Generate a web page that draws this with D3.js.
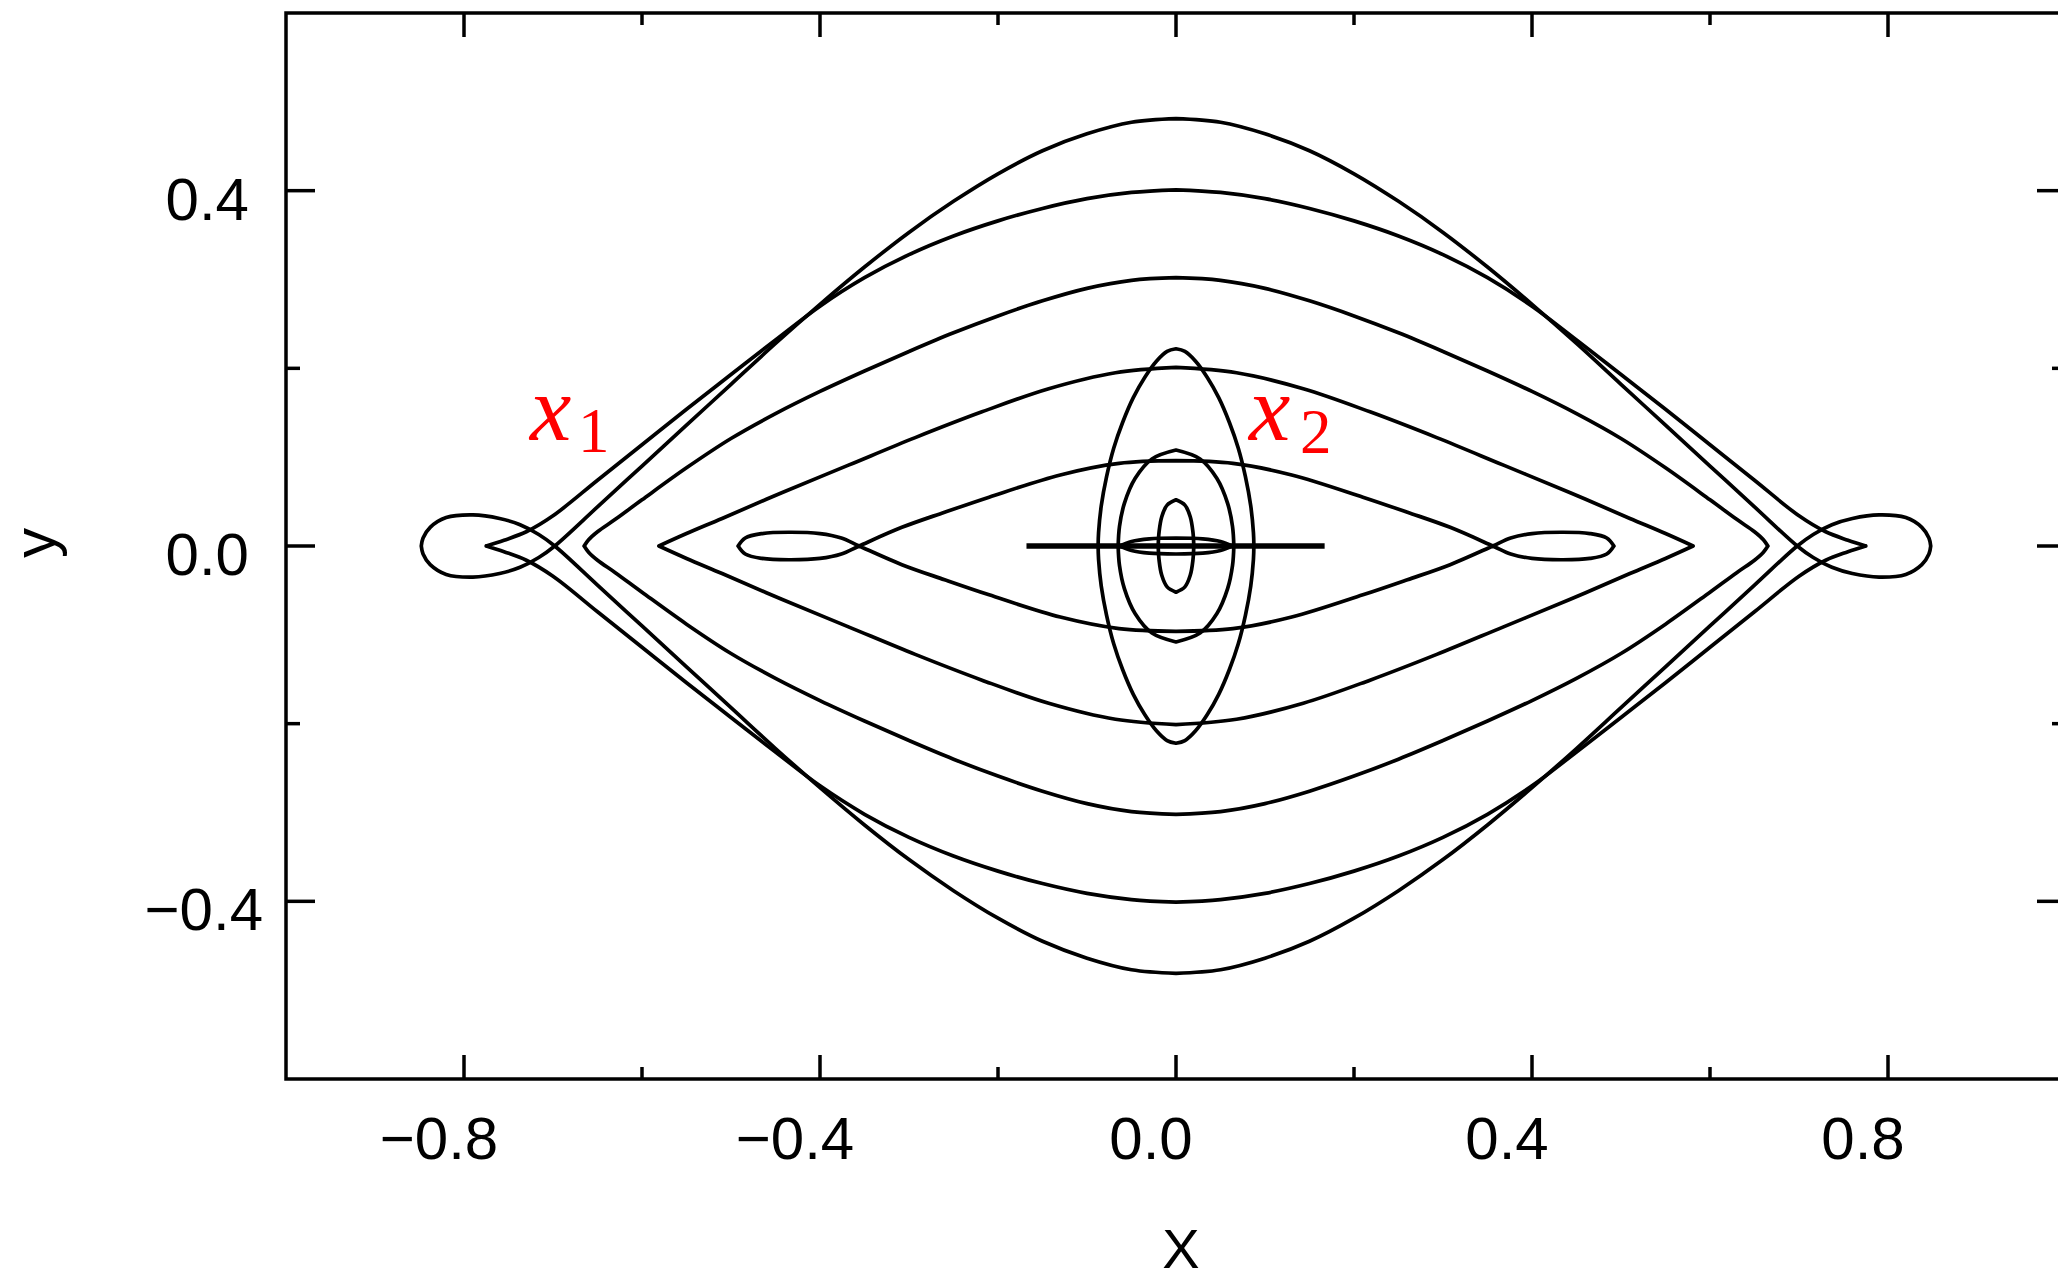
<!DOCTYPE html>
<html>
<head>
<meta charset="utf-8">
<script src="https://cdn.jsdelivr.net/npm/d3@7/dist/d3.min.js"></script>
<style>
  html, body { margin: 0; padding: 0; background: #ffffff; }
  svg { display: block; }
</style>
</head>
<body>
<script>
// ---------------- DATA ----------------
// Each orbit is given as its upper-right quarter: from the top point on the
// y-axis to the far end on the x-axis (the orbits are symmetric in x and y).
const orbitX1a = [[0,0.481],[0.05,0.477],[0.10,0.464],[0.15,0.445],[0.20,0.419],[0.25,0.388],[0.30,0.353],[0.35,0.314],[0.40,0.272],[0.45,0.228],[0.50,0.182],[0.55,0.136],[0.60,0.090],[0.65,0.044],[0.698,0],[0.716,-0.013],[0.737,-0.024],[0.76,-0.031],[0.79,-0.035],[0.82,-0.032],[0.838,-0.021],[0.846,-0.009],[0.848,0]];
const orbitX1b = [[0,0.401],[0.05,0.398],[0.10,0.391],[0.15,0.380],[0.20,0.366],[0.25,0.349],[0.30,0.328],[0.35,0.302],[0.40,0.270],[0.45,0.232],[0.50,0.193],[0.55,0.154],[0.60,0.114],[0.65,0.074],[0.70,0.034],[0.73,0.016],[0.755,0.0065],[0.775,0]];
const orbitX1c = [[0,0.302],[0.05,0.299],[0.10,0.290],[0.15,0.276],[0.20,0.259],[0.25,0.240],[0.30,0.219],[0.35,0.197],[0.40,0.174],[0.45,0.149],[0.50,0.121],[0.55,0.088],[0.60,0.052],[0.63,0.030],[0.65,0.016],[0.66,0.007],[0.665,0]];
const orbitX1d = [[0,0.201],[0.068,0.195],[0.143,0.177],[0.218,0.151],[0.293,0.122],[0.368,0.091],[0.443,0.060],[0.510,0.031],[0.550,0.014],[0.581,0]];
const orbitX1e = [[0,0.096],[0.064,0.093],[0.13,0.080],[0.21,0.055],[0.26,0.038],[0.308,0.021],[0.356,0],[0.376,-0.009],[0.40,-0.014],[0.435,-0.0155],[0.465,-0.014],[0.484,-0.009],[0.492,0]];
const orbitX2a = [[0,0.222],[0.010,0.219],[0.022,0.208],[0.035,0.190],[0.048,0.167],[0.060,0.139],[0.070,0.110],[0.078,0.078],[0.084,0.045],[0.087,0.015],[0.0875,0]];
const orbitX2b = [[0,0.108],[0.027,0.098],[0.046,0.076],[0.058,0.048],[0.0635,0.022],[0.065,0]];
const orbitX2c = [[0,0.052],[0.010,0.046],[0.016,0.033],[0.019,0.016],[0.020,0]];
const orbitThin = [[0,0.009],[0.03,0.008],[0.05,0.005],[0.063,0]];
const orbitLine = [[-0.168,0],[0.167,0]];

const xMajorTicks = [-0.8,-0.4,0,0.4,0.8];
const xMinorTicks = [-0.6,-0.2,0.2,0.6];
const yMajorTicks = [-0.4,0,0.4];
const yMinorTicks = [-0.2,0.2];
const xTitle = "X";
const yTitle = "y";

// ---------------- CHART ----------------
const W = 2058, H = 1284;
const svg = d3.select("body").append("svg").attr("width", W).attr("height", H);
svg.append("rect").attr("width", W).attr("height", H).attr("fill", "#fff");

const x = d3.scaleLinear().domain([-1, 1]).range([286, 2066]);
const y = d3.scaleLinear().domain([-0.6, 0.6]).range([1079, 13]);

const fmt = d => (d < 0 ? "\u2212" : "") + Math.abs(d).toFixed(1);
const font = "'Liberation Sans', Arial, sans-serif";

const line = d3.line().x(d => x(d[0])).y(d => y(d[1])).curve(d3.curveCatmullRom.alpha(0.5));

function fullOrbit(q) {
  const mirrors = [[1,1],[1,-1],[-1,1],[-1,-1]];
  return mirrors.map(([sx, sy]) => line(q.map(p => [sx * p[0], sy * p[1]]))).join("");
}

const orbits = [orbitX1a, orbitX1b, orbitX1c, orbitX1d, orbitX1e, orbitX2a, orbitX2b, orbitX2c, orbitThin];
const g = svg.append("g");
g.selectAll("path.orbit").data(orbits).join("path")
  .attr("class", "orbit")
  .attr("d", fullOrbit)
  .attr("fill", "none")
  .attr("stroke", "#000")
  .attr("stroke-width", 3.7)
  .attr("stroke-linecap", "round")
  .attr("stroke-linejoin", "round");

g.append("path")
  .attr("d", d3.line().x(d => x(d[0])).y(d => y(d[1]))(orbitLine))
  .attr("stroke", "#000").attr("stroke-width", 5.5).attr("fill", "none");

// frame
svg.append("rect")
  .attr("x", x(-1)).attr("y", y(0.6))
  .attr("width", x(1) - x(-1)).attr("height", y(-0.6) - y(0.6))
  .attr("fill", "none").attr("stroke", "#000").attr("stroke-width", 3.5);

// ticks (inward on all four sides)
const tickG = svg.append("g").attr("stroke", "#000").attr("stroke-width", 3.5);
const xt = [...xMajorTicks.map(v => [v, 24]), ...xMinorTicks.map(v => [v, 12])];
xt.forEach(([v, len]) => {
  tickG.append("line").attr("x1", x(v)).attr("x2", x(v)).attr("y1", y(-0.6)).attr("y2", y(-0.6) - len);
  tickG.append("line").attr("x1", x(v)).attr("x2", x(v)).attr("y1", y(0.6)).attr("y2", y(0.6) + len);
});
const yt = [...yMajorTicks.map(v => [v, 29]), ...yMinorTicks.map(v => [v, 14])];
yt.forEach(([v, len]) => {
  tickG.append("line").attr("y1", y(v)).attr("y2", y(v)).attr("x1", x(-1)).attr("x2", x(-1) + len);
  tickG.append("line").attr("y1", y(v)).attr("y2", y(v)).attr("x1", x(1)).attr("x2", x(1) - len);
});

// tick labels
svg.append("g").selectAll("text").data(xMajorTicks).join("text")
  .attr("x", d => x(d) - 25).attr("y", 1159)
  .attr("text-anchor", "middle")
  .style("font-family", font).attr("font-size", 60).attr("fill", "#000")
  .text(fmt);

svg.append("g").selectAll("text").data(yMajorTicks).join("text")
  .attr("x", d => d < 0 ? 263 : 249).attr("y", d => y(d) + 29)
  .attr("text-anchor", "end")
  .style("font-family", font).attr("font-size", 60).attr("fill", "#000")
  .text(fmt);

// axis titles
svg.append("text").attr("x", 1181).attr("y", 1268).attr("text-anchor", "middle")
  .style("font-family", font).attr("font-size", 56).attr("fill", "#000").text(xTitle);
svg.append("text").attr("transform", "translate(55,543) rotate(-90)").attr("text-anchor", "middle")
  .style("font-family", font).attr("font-size", 60).attr("fill", "#000").text(yTitle);

// red family labels
const serif = "'Liberation Serif', 'DejaVu Serif', 'Times New Roman', serif";
function famLabel(px, sub, subx, suby) {
  const t = svg.append("g").attr("fill", "#ff0000");
  t.append("text").attr("x", px).attr("y", 440).style("font-family", serif)
    .style("font-style", "italic").attr("font-size", 93).text("x");
  t.append("text").attr("x", subx).attr("y", suby).style("font-family", serif)
    .attr("font-size", 63).text(sub);
}
famLabel(530, "1", 578, 452);
famLabel(1249, "2", 1300, 453);
</script>
</body>
</html>
